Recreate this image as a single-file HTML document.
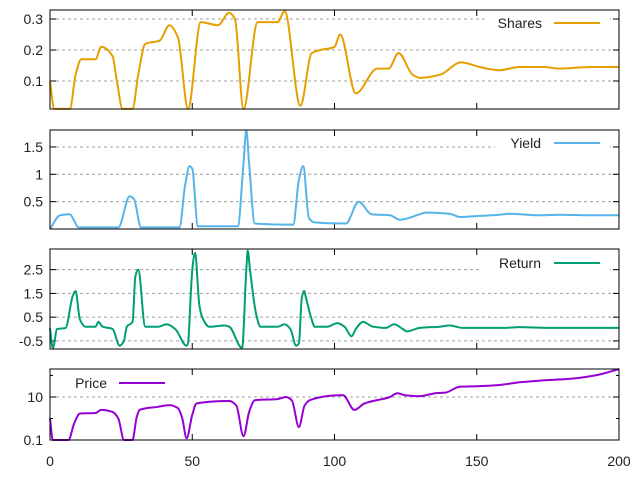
<!DOCTYPE html>
<html><head><meta charset="utf-8"><style>
html,body{margin:0;padding:0;background:#fff;width:640px;height:480px;overflow:hidden}
svg{display:block}
text{font-family:"Liberation Sans",sans-serif;font-size:14px;fill:#222}
</style></head><body>
<svg id="chart" width="640" height="480" xmlns="http://www.w3.org/2000/svg"></svg>
<script>
const sharesX=[0,1.5,7,9,11,16,18,22,23.5,25.5,29,31,33.5,38.5,42,45,48.5,53,59,63,65,68,73,80,82.5,88,92,95,100,102,107.5,115,119,122.5,127.5,130,137,144.5,151,158,165,174,179,190,200];
const sharesY=[0.1,0.01,0.01,0.12,0.17,0.17,0.21,0.18,0.1,0.01,0.01,0.12,0.22,0.23,0.28,0.24,0.01,0.29,0.28,0.32,0.30,0.01,0.29,0.29,0.325,0.02,0.19,0.20,0.21,0.25,0.06,0.14,0.14,0.19,0.12,0.11,0.12,0.16,0.145,0.135,0.145,0.145,0.14,0.145,0.145];
const yieldX=[0,3.5,7,8.5,10,24,28,29.5,32,45.5,47.5,49,50,52,66,68,69,70,72,85.5,87.5,89,91,93,104,108.5,113,119.5,123,130,132,140.5,144,151,158,161.5,172,179,190,200];
const yieldY=[0,0.25,0.27,0.15,0.03,0.03,0.6,0.55,0.03,0.03,0.8,1.15,1.1,0.05,0.05,1.2,1.8,1.2,0.1,0.08,0.9,1.15,0.2,0.12,0.1,0.5,0.27,0.25,0.17,0.27,0.3,0.28,0.22,0.24,0.26,0.28,0.25,0.26,0.25,0.25];
const returnX=[0,1,2.5,5.5,8,9,10.5,12.5,16,17,18.5,22,24.5,26,27,29,30,31,33.5,38,41,44,48,48.5,49.5,50,51,52.5,53.5,56,61.5,63,67.5,69,69.5,70.3,72.5,74,80,82.5,84.5,86.5,87.5,88.5,89.3,90,92,93,97.5,101,103.5,106,107.5,110,113.5,118,121,124,125.5,130,137,140.5,145,160,165,175,180,200];
const returnY=[0.03,-0.8,0,0.05,1.4,1.6,0.4,0.1,0.1,0.3,0.1,0,-0.7,-0.5,0.1,0.3,2.2,2.5,0.1,0.1,0.2,0,-0.7,-0.6,1.5,2.5,3.2,1.0,0.5,0.1,0.15,0.1,-0.8,2.5,3.3,2.5,0.6,0.1,0.1,0.2,0,-0.7,-0.6,1.3,1.6,1.3,0.4,0.1,0.1,0.25,0.1,-0.3,0,0.3,0.1,0.05,0.2,0,-0.1,0.05,0.1,0.15,0.05,0.05,0.08,0.05,0.05,0.05];
const priceX=[0,1,6.5,8.5,10.5,16,18,22,24,26,29,30.5,31.5,38,42,45,46.5,48,50,51.5,63,65.5,68,70,72,80,83,85,87.5,89.5,91.5,102,103,107,110.5,119.5,122,125,130,135.5,139,144,151,158,165,174,183,193,200];
const priceY=[1,0.1,0.1,0.6,1.7,1.8,2.5,2.0,1.0,0.1,0.1,1.2,2.5,3.5,4.2,3,1,0.12,1.5,5,6.5,4,0.15,2,7,8,10,7,0.4,4,7.3,12,12,2.5,5,10,15,12,11,15,16,30,32,36,48,60,70,110,200];
const xTicks=[0,50,100,150,200];
const svg=document.getElementById('chart');
const NS='http://www.w3.org/2000/svg';
function mk(tag,attrs,parent){const e=document.createElementNS(NS,tag);for(const k in attrs)e.setAttribute(k,attrs[k]);(parent||svg).appendChild(e);return e;}
const X0=50,X1=619;
function xs(v){return X0+(v-0)/(200-0)*(X1-X0);}
function monotonePath(px,py){
 const n=px.length;const dx=[],m=[],t=new Array(n);
 for(let i=0;i<n-1;i++){dx.push(px[i+1]-px[i]);m.push((py[i+1]-py[i])/(px[i+1]-px[i]));}
 t[0]=m[0];t[n-1]=m[n-2];
 for(let i=1;i<n-1;i++){if(m[i-1]*m[i]<=0)t[i]=0;else{const w1=2*dx[i]+dx[i-1],w2=dx[i]+2*dx[i-1];t[i]=(w1+w2)/(w1/m[i-1]+w2/m[i]);}}
 let d='M'+px[0].toFixed(1)+','+py[0].toFixed(1);
 for(let i=0;i<n-1;i++){const h=dx[i]/3;d+='C'+(px[i]+h).toFixed(1)+','+(py[i]+t[i]*h).toFixed(1)+' '+(px[i+1]-h).toFixed(1)+','+(py[i+1]-t[i+1]*h).toFixed(1)+' '+px[i+1].toFixed(1)+','+py[i+1].toFixed(1);}
 return d;
}
const panels=[
 {name:'shares',label:'Shares',color:'#E69F00',top:10,bot:109,min:0.0097,max:0.329,log:false,ticks:[0.1,0.2,0.3],tl:['0.1','0.2','0.3'],xs:sharesX,ys:sharesY,leg:{tx:542,y:23,l1:554,l2:600,gapA:485,gapB:610}},
 {name:'yield',label:'Yield',color:'#56B4E9',top:130,bot:229,min:0,max:1.81,log:false,ticks:[0.5,1,1.5],tl:['0.5','1','1.5'],xs:yieldX,ys:yieldY,leg:{tx:541,y:143,l1:554,l2:600,gapA:495,gapB:610}},
 {name:'return',label:'Return',color:'#009E73',top:249,bot:349,min:-0.84,max:3.37,log:false,ticks:[-0.5,0.5,1.5,2.5],tl:['-0.5','0.5','1.5','2.5'],xs:returnX,ys:returnY,leg:{tx:541,y:263,l1:554,l2:600,gapA:482,gapB:610}},
 {name:'price',label:'Price',color:'#9400D3',top:369,bot:440,min:0.1,max:200,log:true,ticks:[0.1,10],minor:[1,100],tl:['0.1','10'],xs:priceX,ys:priceY,leg:{tx:107,y:383,l1:119,l2:165,left:true}}
];
panels.forEach(p=>{
 const g=mk('g',{});
 
 
 const ys=v=>{if(p.log){const a=Math.log10(p.min),b=Math.log10(p.max);return p.bot-(Math.log10(v)-a)/(b-a)*(p.bot-p.top);}return p.bot-(v-p.min)/(p.max-p.min)*(p.bot-p.top);};
 p.ticks.forEach((t,i)=>{
  const y=ys(t);
  const gl=mk('line',{x1:X0,x2:X1,y1:y,y2:y,stroke:'#a0a0a0','stroke-dasharray':'3,3','stroke-width':1},g);
  
  
  mk('line',{x1:X0,x2:X0+6,y1:y,y2:y,stroke:'#000'},g);
  mk('line',{x1:X1-6,x2:X1,y1:y,y2:y,stroke:'#000'},g);
  const tx=mk('text',{x:43,y:y+5,'text-anchor':'end'},g);
  tx.textContent=p.tl[i];
  
  
 });
 (p.minor||[]).forEach(t=>{const y=ys(t);mk('line',{x1:X0,x2:X0+3,y1:y,y2:y,stroke:'#000'},g);mk('line',{x1:X1-3,x2:X1,y1:y,y2:y,stroke:'#000'},g);});
 xTicks.forEach(t=>{const x=xs(t);mk('line',{x1:x,x2:x,y1:p.bot,y2:p.bot-6,stroke:'#000'},g);mk('line',{x1:x,x2:x,y1:p.top,y2:p.top+6,stroke:'#000'},g);});
 const L=p.leg;
 const lg=mk('g',{},g);
 
 
 if(!L.left){mk('rect',{x:L.gapA,y:L.y-9,width:L.gapB-L.gapA,height:18,fill:'#fff'},lg);}
 const lt=mk('text',{x:L.tx,y:L.y+5,'text-anchor':'end'},lg);
 lt.textContent=p.label;
 mk('line',{x1:L.l1,x2:L.l2,y1:L.y,y2:L.y,stroke:p.color,'stroke-width':2},lg);
 const pxs=p.xs.map(xs), pys=p.ys.map(ys);
 const path=mk('path',{d:monotonePath(pxs,pys),fill:'none',stroke:p.color,'stroke-width':2,'stroke-linejoin':'round'},g);
 
 
 const br=mk('rect',{x:X0,y:p.top,width:X1-X0,height:p.bot-p.top,fill:'none',stroke:'#000','stroke-width':1},g);
 
 
});
xTicks.forEach(t=>{
 const tx=mk('text',{x:xs(t),y:466,'text-anchor':'middle'});
 tx.textContent=String(t);
 
 
});
</script>
</body></html>
